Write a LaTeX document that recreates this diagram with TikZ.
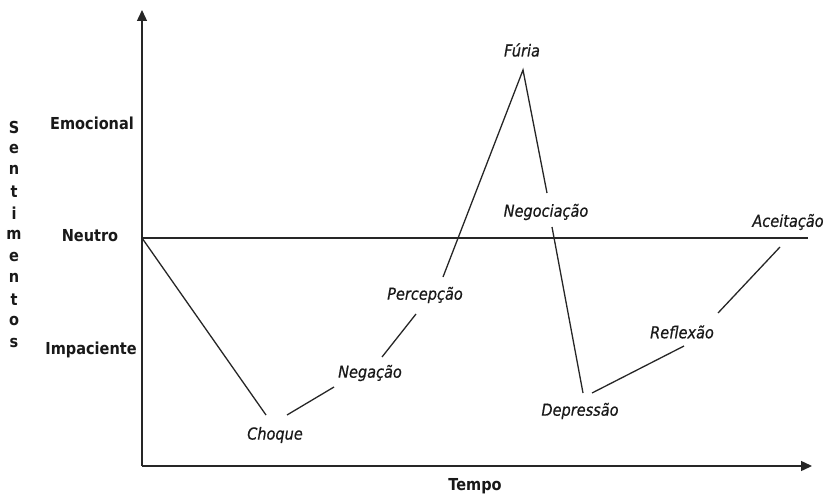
\documentclass[tikz,border=0pt]{standalone}
\usepackage{fontspec}
\setmainfont{DejaVu Sans}[FakeStretch=0.88,ItalicFeatures={FakeBold=0.6}]
\usetikzlibrary{arrows.meta}
\begin{document}
\begin{tikzpicture}[x=1pt,y=-1pt,
  axisline/.style={line width=1.4pt,draw=black!85,-{Triangle[length=11pt,width=10pt]}},
  curve/.style={line width=1.3pt,draw=black!85},
  stage/.style={font=\fontsize{16.5}{18}\selectfont\itshape,inner sep=0pt,text=black!90},
  lev/.style={font=\fontsize{16.5}{18}\selectfont\bfseries,inner sep=0pt,text=black!90},
  vlet/.style={font=\fontsize{16.5}{18}\selectfont\bfseries,inner sep=0pt,text=black!90}]
\useasboundingbox (0,0) rectangle (829,495);
% axes
\coordinate (O) at (142,466);
\coordinate (ytop) at (142,10);
\coordinate (xend) at (812,466);
\draw[axisline] (O) -- (ytop);
\draw[axisline] (O) -- (xend);
\coordinate (n0) at (142,238);
\coordinate (n1) at (808,238);
\draw[curve] (n0) -- (n1);
% level labels
\node[lev] (emo) at (92,123) {Emocional};
\node[lev] (neu) at (90,236) {Neutro};
\node[lev] (imp) at (91,350) {Impaciente};
\node[lev] (tempo) at (475,486) {Tempo};
\foreach \l [count=\i from 0] in {S,e,n,t,i,m,e,n,t,o,s}
  \node[vlet] (s\i) at (14,{127+21.6*\i}) {\l};
% stage labels
\node[stage] (choque) at (275,435) {Choque};
\node[stage] (negacao) at (370,373) {Negação};
\node[stage] (percep) at (425,295) {Percepção};
\node[stage] (furia) at (522,50) {Fúria};
\node[stage] (negoc) at (546,212) {Negociação};
\node[stage] (depr) at (580,411) {Depressão};
\node[stage] (refl) at (682,332) {Reflexão};
\node[stage] (acei) at (788,222) {Aceitação};
% curve segments
\coordinate (a1) at (266,415);
\coordinate (b0) at (287,415); \coordinate (b1) at (334,387);
\coordinate (c0) at (382,357); \coordinate (c1) at (416,314);
\coordinate (d0) at (443,277); \coordinate (peak) at (523,70);
\coordinate (e1) at (547,193);
\coordinate (f0) at (552,227); \coordinate (f1) at (583,393);
\coordinate (g0) at (592,393); \coordinate (g1) at (684,346);
\coordinate (h0) at (718,313); \coordinate (h1) at (780,247);
\draw[curve] (n0) -- (a1);
\draw[curve] (b0) -- (b1);
\draw[curve] (c0) -- (c1);
\draw[curve] (d0) -- (peak) -- (e1);
\draw[curve] (f0) -- (f1);
\draw[curve] (g0) -- (g1);
\draw[curve] (h0) -- (h1);
\end{tikzpicture}
\end{document}
